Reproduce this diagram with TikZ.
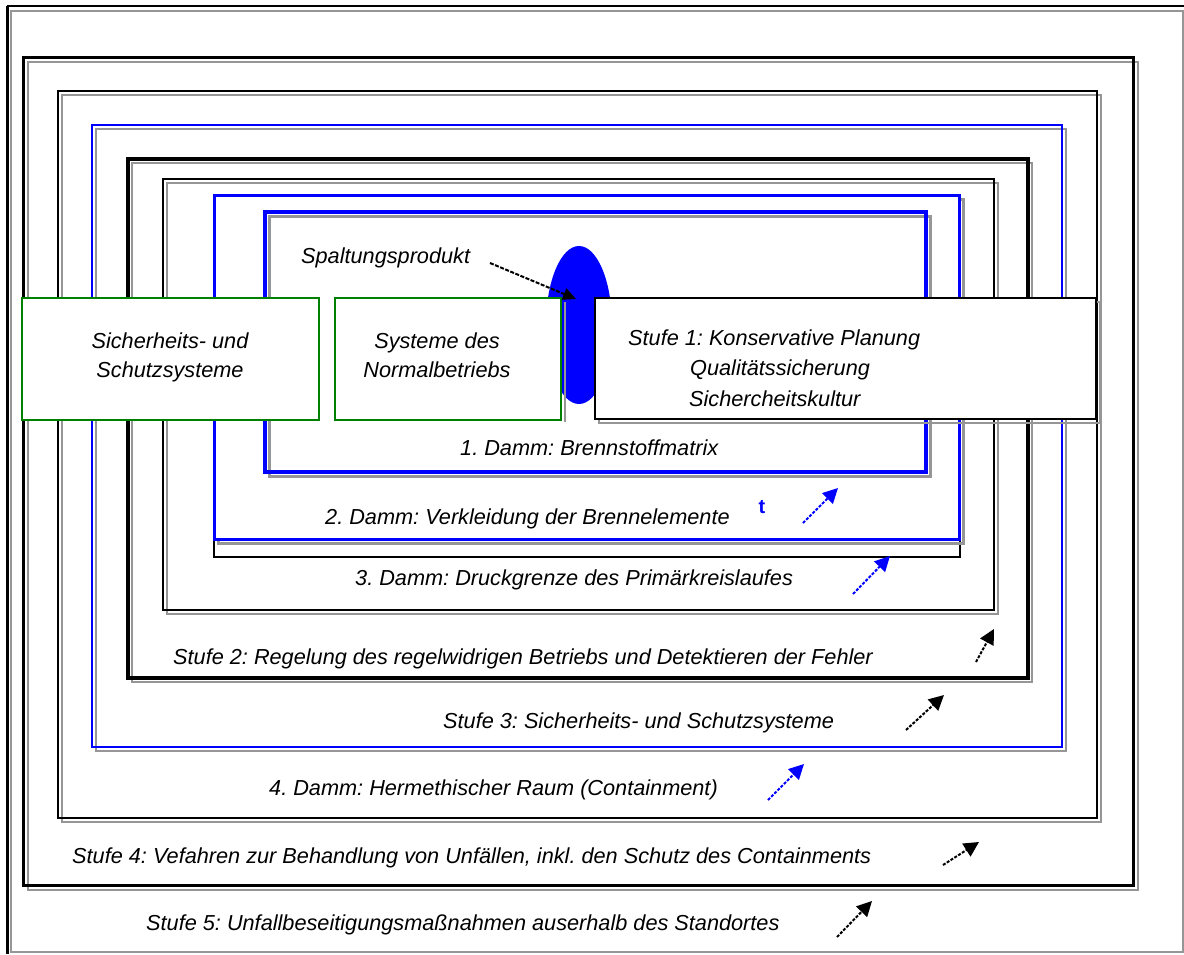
\documentclass[tikz,border=0pt]{standalone}
\usepackage{fontspec}
\setmainfont{Liberation Sans}
\frenchspacing
\usetikzlibrary{arrows.meta}
\definecolor{shgray}{RGB}{150,150,150}
\definecolor{boxgreen}{RGB}{0,128,0}
\begin{document}
\begin{tikzpicture}[x=1pt,y=-1pt,
  txt/.style={font=\fontsize{21.7}{26}\selectfont\itshape, inner sep=0pt, anchor=base west},
  ctxt/.style={font=\fontsize{21.7}{26}\selectfont\itshape, inner sep=0pt, anchor=base},
  shadow/.style={draw=shgray, line width=2pt},
  blkframe/.style={draw=black},
  bluframe/.style={draw=blue},
  marrow/.style={line width=2pt, dash pattern=on 3pt off 1.5pt, -{Triangle[length=15pt,width=15pt]}},
  gbox/.style={draw=boxgreen, line width=2.2pt, fill=white},
  kbox/.style={draw=black, line width=1.8pt, fill=white}
]
\useasboundingbox (0,0) rectangle (1184,954);
\fill[white] (0,0) rectangle (1184,954);
% outer frame
\draw[shgray, line width=1.5pt] (11,11) rectangle (1183,952);
\draw[black, line width=1.5pt] (7,6) -- (1184,6);
\draw[black, line width=3pt] (7,6) -- (7,954);
% frame 2
\draw[shadow] (28,62) rectangle (1138,890);
\draw[blkframe, line width=3pt] (23,57) rectangle (1133,885);
% frame 3
\draw[shadow] (62,95) rectangle (1101,822);
\draw[blkframe, line width=2.4pt] (58,91) rectangle (1097,818);
% frame 4
\draw[shadow] (96,129) rectangle (1066,751);
\draw[bluframe, line width=1.8pt] (92,125) rectangle (1062,747);
% frame 5
\draw[shadow] (132,163) rectangle (1032,682);
\draw[blkframe, line width=3.5pt] (128,159) rectangle (1028,678);
% frame 6
\draw[shadow] (167,183) rectangle (998,614);
\draw[blkframe, line width=2.4pt] (163,179) rectangle (994,610);
% frame 6b
\draw[blkframe, line width=1.5pt] (214,195) rectangle (960,557);
% frame 7
\draw[shadow, line width=3pt] (218,199) rectangle (963,543);
\draw[bluframe, line width=3pt, fill=white] (214,195) rectangle (959,539);
% frame 8
\draw[shadow, line width=3pt] (269,216) rectangle (930,476);
\draw[bluframe, line width=3.5pt] (265,212) rectangle (926,472);
% fission product
\fill[blue] (579,325) ellipse [x radius=33, y radius=79];
% boxes
\draw[shgray, line width=2.5pt] (565,302) -- (565,422);
\draw[gbox] (22,298) rectangle (319,420);
\draw[gbox] (335,298) rectangle (561,420);
\draw[shgray, line width=2.5pt] (599,302) rectangle (1100,423);
\draw[kbox] (595,298) rectangle (1096,419);
\node[ctxt] (a1) at (170,348) {Sicherheits- und};
\node[ctxt] (a2) at (170,377) {Schutzsysteme};
\node[ctxt] (b1) at (437,348) {Systeme des};
\node[ctxt] (b2) at (437,377) {Normalbetriebs};
\node[txt] (c1) at (628,345) {Stufe 1: Konservative Planung};
\node[txt] (c2) at (690,375) {Qualitätssicherung};
\node[txt] (c3) at (689,406) {Sichercheitskultur};
% labels
\node[txt] (sp) at (301,263) {Spaltungsprodukt};
\coordinate (spA) at (490,263);
\coordinate (spB) at (576,299);
\draw[line width=2pt, dash pattern=on 4pt off 1.5pt, -{Triangle[length=13pt,width=12pt]}] (spA) -- (spB);
\node[txt] (d1) at (460,455) {1. Damm: Brennstoffmatrix};
\node[txt] (d2) at (325,524) {2. Damm: Verkleidung der Brennelemente};
\node[txt] (d3) at (355,585) {3. Damm: Druckgrenze des Primärkreislaufes};
\node[txt] (s2) at (173,664) {Stufe 2: Regelung des regelwidrigen Betriebs und Detektieren der Fehler};
\node[txt] (s3) at (443,728) {Stufe 3: Sicherheits- und Schutzsysteme};
\node[txt] (d4) at (269,795) {4. Damm: Hermethischer Raum (Containment)};
\node[txt] (s4) at (72,863) {Stufe 4: Vefahren zur Behandlung von Unfällen, inkl. den Schutz des Containments};
\node[txt] (s5) at (146,930) {Stufe 5: Unfallbeseitigungsmaßnahmen auserhalb des Standortes};
\node[font=\fontsize{20}{24}\selectfont\bfseries, text=blue, inner sep=0pt] (t) at (762,507) {t};
% arrows
\coordinate (a1s) at (803,523); \coordinate (a1e) at (838,488);
\coordinate (a2s) at (853,594); \coordinate (a2e) at (890,556);
\coordinate (a3s) at (976,662); \coordinate (a3e) at (994,629);
\coordinate (a4s) at (906,730); \coordinate (a4e) at (944,695);
\coordinate (a5s) at (768,800); \coordinate (a5e) at (804,764);
\coordinate (a6s) at (943,865); \coordinate (a6e) at (979,842);
\coordinate (a7s) at (837,937); \coordinate (a7e) at (872,901);
\draw[marrow, blue] (a1s) -- (a1e);
\draw[marrow, blue] (a2s) -- (a2e);
\draw[marrow] (a3s) -- (a3e);
\draw[marrow] (a4s) -- (a4e);
\draw[marrow, blue] (a5s) -- (a5e);
\draw[marrow] (a6s) -- (a6e);
\draw[marrow] (a7s) -- (a7e);
\end{tikzpicture}
\end{document}
